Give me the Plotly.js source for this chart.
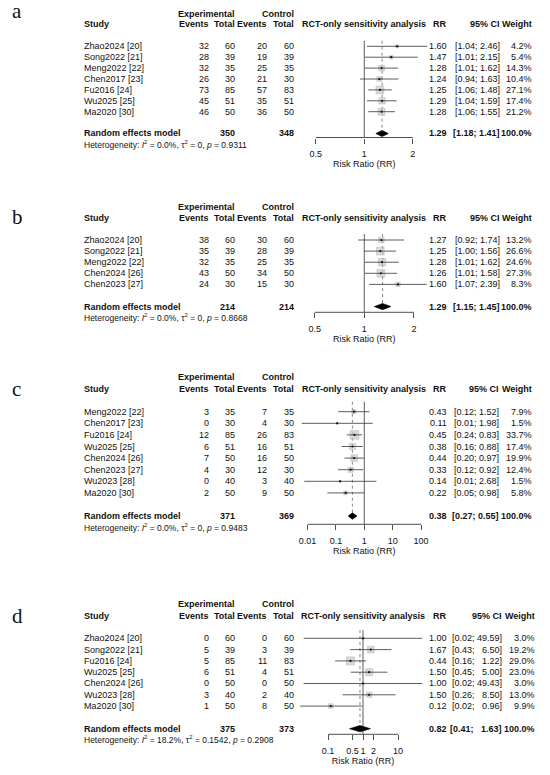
<!DOCTYPE html>
<html><head><meta charset="utf-8">
<script src="https://cdn.plot.ly/plotly-3.0.1.min.js"></script>
<style>html,body{margin:0;padding:0;background:#fff}</style>
</head><body>
<div id="chart" style="width:550px;height:775px"></div>
<script>
// ---------- Panel a ----------
const aStudy = ["Zhao2024 [20]","Song2022 [21]","Meng2022 [22]","Chen2017 [23]","Fu2016 [24]","Wu2025 [25]","Ma2020 [30]"];
const aExpEv = [32,28,32,26,73,45,46];
const aExpN  = [60,39,35,30,85,51,50];
const aCtlEv = [20,19,25,21,57,35,36];
const aCtlN  = [60,39,35,30,83,51,50];
const aRR = [1.60,1.47,1.28,1.24,1.25,1.29,1.28];
const aLo = [1.04,1.01,1.01,0.94,1.06,1.04,1.06];
const aHi = [2.46,2.15,1.62,1.63,1.48,1.59,1.55];
const aW  = [4.2,5.4,14.3,10.4,27.1,17.4,21.2];
const aPooled = [1.29,1.18,1.41];
const aTotals = [350,348];
const aHet = ["0.0%","0","0.9311"];
const aTicks = [0.5,1,2];

// ---------- Panel b ----------
const bStudy = ["Zhao2024 [20]","Song2022 [21]","Meng2022 [22]","Chen2024 [26]","Chen2023 [27]"];
const bExpEv = [38,35,32,43,24];
const bExpN  = [60,39,35,50,30];
const bCtlEv = [30,28,25,34,15];
const bCtlN  = [60,39,35,50,30];
const bRR = [1.27,1.25,1.28,1.26,1.60];
const bLo = [0.92,1.00,1.01,1.01,1.07];
const bHi = [1.74,1.56,1.62,1.58,2.39];
const bW  = [13.2,26.6,24.6,27.3,8.3];
const bPooled = [1.29,1.15,1.45];
const bTotals = [214,214];
const bHet = ["0.0%","0","0.8668"];
const bTicks = [0.5,1,2];

// ---------- Panel c ----------
const cStudy = ["Meng2022 [22]","Chen2017 [23]","Fu2016 [24]","Wu2025 [25]","Chen2024 [26]","Chen2023 [27]","Wu2023 [28]","Ma2020 [30]"];
const cExpEv = [3,0,12,6,7,4,0,2];
const cExpN  = [35,30,85,51,50,30,40,50];
const cCtlEv = [7,4,26,16,16,12,3,9];
const cCtlN  = [35,30,83,51,50,30,40,50];
const cRR = [0.43,0.11,0.45,0.38,0.44,0.33,0.14,0.22];
const cLo = [0.12,0.0062,0.24,0.16,0.20,0.12,0.0076,0.05];
const cHi = [1.52,1.98,0.83,0.88,0.97,0.92,2.68,0.98];
const cW  = [7.9,1.5,33.7,17.4,19.9,12.4,1.5,5.8];
const cPooled = [0.38,0.27,0.55];
const cTotals = [371,369];
const cHet = ["0.0%","0","0.9483"];
const cTicks = [0.01,0.1,1,10,100];

// ---------- Panel d ----------
const dStudy = ["Zhao2024 [20]","Song2022 [21]","Fu2016 [24]","Wu2025 [25]","Chen2024 [26]","Wu2023 [28]","Ma2020 [30]"];
const dExpEv = [0,5,5,6,0,3,1];
const dExpN  = [60,39,85,51,50,40,50];
const dCtlEv = [0,3,11,4,0,2,8];
const dCtlN  = [60,39,83,51,50,40,50];
const dRR = [1.00,1.67,0.44,1.50,1.00,1.50,0.12];
const dLo = [0.02,0.43,0.16,0.45,0.02,0.26,0.016];
const dHi = [49.59,6.50,1.22,5.00,49.43,8.50,0.96];
const dW  = [3.0,19.2,29.0,23.0,3.0,13.0,9.9];
const dPooled = [0.82,0.41,1.63];
const dTotals = [375,373];
const dHet = ["18.2%","0.1542","0.2908"];
const dTicks = [0.1,0.5,1,2,10];

const panelLetters = ["a","b","c","d"];

const panels = [
  {study:aStudy,expEv:aExpEv,expN:aExpN,ctlEv:aCtlEv,ctlN:aCtlN,rr:aRR,lo:aLo,hi:aHi,w:aW,pooled:aPooled,totals:aTotals,het:aHet,ticks:aTicks},
  {study:bStudy,expEv:bExpEv,expN:bExpN,ctlEv:bCtlEv,ctlN:bCtlN,rr:bRR,lo:bLo,hi:bHi,w:bW,pooled:bPooled,totals:bTotals,het:bHet,ticks:bTicks},
  {study:cStudy,expEv:cExpEv,expN:cExpN,ctlEv:cCtlEv,ctlN:cCtlN,rr:cRR,lo:cLo,hi:cHi,w:cW,pooled:cPooled,totals:cTotals,het:cHet,ticks:cTicks},
  {study:dStudy,expEv:dExpEv,expN:dExpN,ctlEv:dCtlEv,ctlN:dCtlN,rr:dRR,lo:dLo,hi:dHi,w:dW,pooled:dPooled,totals:dTotals,het:dHet,ticks:dTicks}
];

// ---------- geometry (pixels) ----------
const W = 550, H = 775;
const geom = [
  {y0:46.3, dy:10.9, axisPx:137.5, nullTopPx:40.7, c1:364.3, s:161,   ciR:501.5, wR:534.3, letterPx:11.3},
  {y0:240,  dy:11.1, axisPx:312.3, nullTopPx:234,  c1:364.3, s:165,   ciR:501.5, wR:534.3, letterPx:217},
  {y0:411.7,dy:11.6, axisPx:524.3, nullTopPx:401.7,c1:364.3, s:28.35, ciR:501,   wR:534.3, letterPx:389},
  {y0:638.3,dy:11.3, axisPx:734.3, nullTopPx:630,  c1:363,   s:35,    ciR:504,   wR:536.5, letterPx:616.3}
];
const col = {study:81.5, expEv:210.5, expN:237, ctlEv:269, ctlN:296, rr:449};
const FONT = 'Arial, "Liberation Sans", Helvetica, sans-serif';
const TXT = '#111';

const traces = [];
const annotations = [];
const layout = {
  width: W, height: H, margin:{l:0,r:0,t:0,b:0},
  paper_bgcolor:'#fff', plot_bgcolor:'rgba(0,0,0,0)',
  showlegend:false, font:{family:FONT, size:9, color:TXT},
  annotations: annotations
};

function fmtCI(lo, hi, width) {
  const h = hi.toFixed(2);
  const pad = '\u00a0\u00a0'.repeat(Math.max(0, width - h.length));
  return '[' + lo.toFixed(2) + ';\u00a0' + pad + h + ']';
}

panels.forEach((p, pi) => {
  const g = geom[pi];
  const n = p.study.length;
  const suf = pi === 0 ? '' : String(pi + 1);
  const xa = 'x' + suf, ya = 'y' + suf;
  const kTop = -3.8, kBot = n + 2.8;
  const topPx = g.y0 + g.dy * kTop, botPx = g.y0 + g.dy * kBot;
  const kAxis = (g.axisPx - g.y0) / g.dy;
  const kNull = (g.nullTopPx - g.y0) / g.dy;
  const kPool = n + 1;
  const half = 68;

  layout['xaxis' + suf] = {
    type:'log', domain:[(g.c1 - half) / W, (g.c1 + half) / W],
    range:[-half / g.s, half / g.s], anchor:'free', position: 1 - g.axisPx / H,
    showline:false, showgrid:false, zeroline:false,
    ticks:'outside', ticklen:5, tickwidth:0.8, tickcolor:'#222', tickangle:0,
    tickmode:'array', tickvals:p.ticks, ticktext:p.ticks.map(String),
    tickfont:{size:9, color:TXT, family:FONT}, ticklabelstandoff:3,
    title:{text:'Risk Ratio (RR)', font:{size:9, color:TXT, family:FONT}, standoff:2},
    fixedrange:true
  };
  layout['yaxis' + suf] = {
    domain:[1 - botPx / H, 1 - topPx / H], range:[kBot, kTop],
    visible:false, fixedrange:true
  };

  const ciW = Math.max(...p.hi.map(v => v.toFixed(2).length), p.pooled[2].toFixed(2).length);

  // axis line across tick range
  traces.push({x:[p.ticks[0], p.ticks[p.ticks.length-1]], y:[kAxis, kAxis], xaxis:xa, yaxis:ya,
    mode:'lines', line:{color:'#222', width:0.8}, hoverinfo:'skip'});
  // null line
  traces.push({x:[1,1], y:[kNull, kAxis], xaxis:xa, yaxis:ya, mode:'lines',
    line:{color:'#333', width:0.8}, hoverinfo:'skip'});
  // pooled dotted line
  traces.push({x:[p.pooled[0], p.pooled[0]], y:[kNull, kPool], xaxis:xa, yaxis:ya, mode:'lines',
    line:{color:'#666', width:0.8, dash:'dot'}, hoverinfo:'skip'});
  // squares
  const rows = p.study.map((_, i) => i);
  traces.push({x:p.rr, y:rows, xaxis:xa, yaxis:ya, mode:'markers', cliponaxis:false,
    marker:{symbol:'square', size:p.w.map(v => 1.5 * Math.sqrt(v)), color:'#c8c8c8',
    line:{color:'#a6a6a6', width:0.6}}, hoverinfo:'skip'});
  // CI lines
  const cx = [], cy = [];
  p.lo.forEach((v, i) => { cx.push(v, p.hi[i], null); cy.push(i, i, null); });
  traces.push({x:cx, y:cy, xaxis:xa, yaxis:ya, mode:'lines', line:{color:'#333', width:0.8}, hoverinfo:'skip'});
  // center dots
  traces.push({x:p.rr, y:rows, xaxis:xa, yaxis:ya, mode:'markers', cliponaxis:false,
    marker:{symbol:'circle', size:2.2, color:'#111'}, hoverinfo:'skip'});
  // diamond
  const dh = 0.28;
  traces.push({x:[p.pooled[1], p.pooled[0], p.pooled[2], p.pooled[0], p.pooled[1]],
    y:[kPool, kPool - dh, kPool, kPool + dh, kPool], xaxis:xa, yaxis:ya, mode:'lines',
    fill:'toself', fillcolor:'#000', line:{color:'#000', width:0.6}, hoverinfo:'skip'});

  function T(text, xpx, k, anchor, size) {
    annotations.push({text:text, x:xpx / W, xref:'paper', y:k, yref:ya, xanchor:anchor, yanchor:'middle',
      showarrow:false, font:{family:FONT, size:size || 9, color:TXT}});
  }
  // headers
  T('<b>Experimental</b>', col.expN, -3, 'right');
  T('<b>Control</b>', col.ctlN, -3, 'right');
  T('<b>Study</b>', col.study, -2, 'left');
  T('<b>Events</b>', col.expEv, -2, 'right');
  T('<b>Total</b>', col.expN, -2, 'right');
  T('<b>Events</b>', col.ctlEv, -2, 'right');
  T('<b>Total</b>', col.ctlN, -2, 'right');
  T('<b>RCT-only sensitivity analysis</b>', g.c1, -2, 'center');
  T('<b>RR</b>', col.rr, -2, 'right');
  T('<b>95% CI</b>', g.ciR, -2, 'right');
  T('<b>Weight</b>', g.wR, -2, 'right');
  // study rows
  for (let i = 0; i < n; i++) {
    T(p.study[i], col.study, i, 'left');
    T(String(p.expEv[i]), col.expEv, i, 'right');
    T(String(p.expN[i]), col.expN, i, 'right');
    T(String(p.ctlEv[i]), col.ctlEv, i, 'right');
    T(String(p.ctlN[i]), col.ctlN, i, 'right');
    T(p.rr[i].toFixed(2), col.rr, i, 'right');
    T(fmtCI(p.lo[i], p.hi[i], ciW), g.ciR, i, 'right');
    T(p.w[i].toFixed(1) + '%', g.wR, i, 'right');
  }
  // pooled row
  T('<b>Random effects model</b>', col.study, kPool, 'left');
  T('<b>' + p.totals[0] + '</b>', col.expN, kPool, 'right');
  T('<b>' + p.totals[1] + '</b>', col.ctlN, kPool, 'right');
  T('<b>' + p.pooled[0].toFixed(2) + '</b>', col.rr, kPool, 'right');
  T('<b>' + fmtCI(p.pooled[1], p.pooled[2], ciW) + '</b>', g.ciR, kPool, 'right');
  T('<b>100.0%</b>', g.wR, kPool, 'right');
  // heterogeneity
  T('Heterogeneity: <i>I</i><sup>2</sup> = ' + p.het[0] + ', \u03c4<sup>2</sup> = ' + p.het[1] +
    ', <i>p</i> = ' + p.het[2], col.study, kPool + 1, 'left', 8.5);
  // panel letter
  annotations.push({text:panelLetters[pi], x:9.5 / W, xref:'paper', y:1 - g.letterPx / H, yref:'paper',
    xanchor:'left', yanchor:'middle', showarrow:false,
    font:{family:'"Times New Roman", "Liberation Serif", "DejaVu Serif", serif', size:21, color:'#111'}});
});

Plotly.newPlot('chart', traces, layout, {staticPlot:true, displayModeBar:false});
</script>
</body></html>
